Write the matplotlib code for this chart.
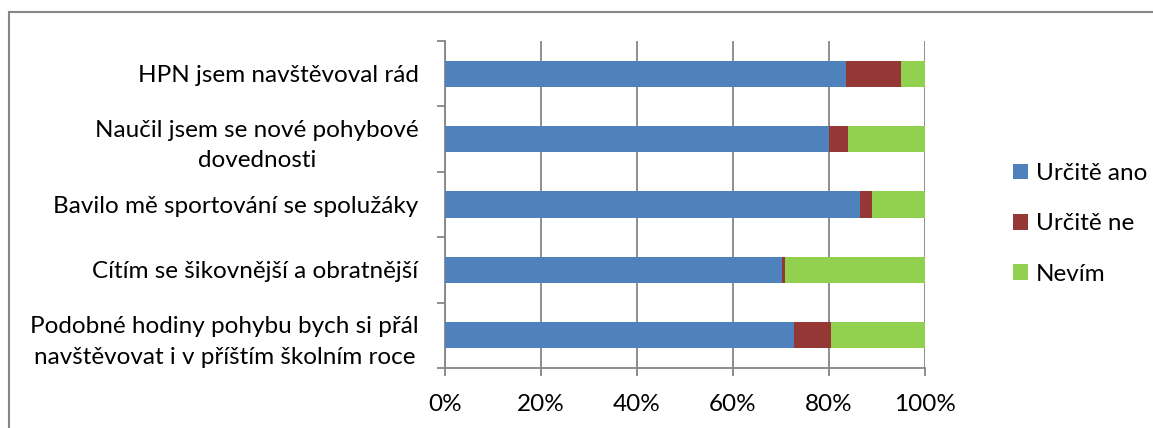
import numpy as np
import matplotlib.pyplot as plt
from matplotlib.patches import Rectangle
from matplotlib.ticker import PercentFormatter

plt.rcParams['font.family'] = ['Lato', 'DejaVu Sans']

# Data (top to bottom as shown)
questions = [
    'HPN jsem navštěvoval rád',
    'Naučil jsem se nové pohybové\ndovednosti',
    'Bavilo mě sportování se spolužáky',
    'Cítím se šikovnější a obratnější',
    'Podobné hodiny pohybu bych si přál\nnavštěvovat i v příštím školním roce',
]
urcite_ano = [83.5, 79.9, 86.5, 70.3, 72.8]
urcite_ne = [11.6, 4.1, 2.4, 0.5, 7.7]
nevim = [4.9, 16.0, 11.1, 29.2, 19.5]

series_names = ['Určitě ano', 'Určitě ne', 'Nevím']
colors = ['#4F81BD', '#953735', '#92D050']
grid_col = '#868686'
fs = 17.5

W, H = 1153, 428
fig = plt.figure(figsize=(W / 100, H / 100), dpi=100)

# axes placed in pixel terms: x 445..925, y 41..368
ax = fig.add_axes([445 / W, 1 - 368 / H, 480 / W, 327 / H])

y = np.arange(len(questions))
left = np.zeros(len(questions))
handles = []
for vals, name, col in zip([urcite_ano, urcite_ne, nevim], series_names, colors):
    b = ax.barh(y, vals, left=left, height=0.4, color=col, label=name, zorder=3)
    handles.append(b)
    left = left + np.array(vals)

ax.set_xlim(0, 100)
ax.set_ylim(len(questions) - 0.5, -0.5)

ax.set_xticks(np.arange(0, 101, 20))
ax.xaxis.set_major_formatter(PercentFormatter(decimals=0))
ax.grid(axis='x', color=grid_col, lw=1.3, zorder=0)

ax.set_yticks(y)
ax.set_yticklabels(questions, multialignment='center')
ax.set_yticks(np.arange(-0.5, len(questions)), minor=True)
ax.tick_params(axis='y', which='major', length=0, pad=19, labelsize=fs)
ax.tick_params(axis='y', which='minor', length=6, width=1.3, color=grid_col)
ax.tick_params(axis='x', length=6, width=1.3, color=grid_col, pad=13, labelsize=fs)
for lab in ax.get_yticklabels():
    lab.set_linespacing(1.55)

for s in ['top', 'right']:
    ax.spines[s].set_visible(False)
for s in ['left', 'bottom']:
    ax.spines[s].set_color(grid_col)
    ax.spines[s].set_linewidth(1.3)

fig.legend(handles=handles, labels=series_names, loc='center left',
           bbox_to_anchor=(1001 / W, 1 - 224 / H), frameon=False, fontsize=fs,
           handlelength=0.6, handleheight=0.6, handletextpad=0.35,
           labelspacing=1.2, borderpad=0)

# outer chart border (cut off on right and bottom)
fig.patches.append(Rectangle((8.5 / W, -0.2), 1.2, 1.2 - 12 / H, transform=fig.transFigure,
                             fill=False, edgecolor=grid_col, lw=1.5))

fig.savefig('out.png', dpi=100)
